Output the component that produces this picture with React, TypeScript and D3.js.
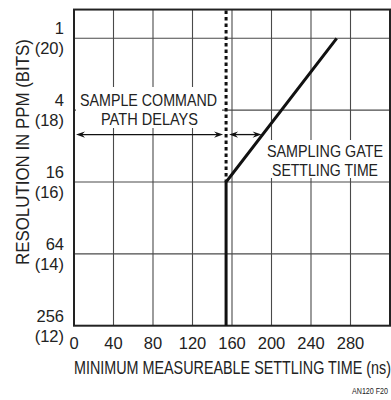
import React from 'react';
import * as d3 from 'd3';

// tick values
const xTicks = [0, 40, 80, 120, 160, 200, 240, 280];
const ppmLabels = ['1', '4', '16', '64', '256'];
const bitTicks = [20, 18, 16, 14, 12];

// settling curve: minimum measurable settling time (ns) vs resolution (bits)
const settleCurve = [
  { ns: 154, bits: 12 },
  { ns: 154, bits: 16 },
  { ns: 266, bits: 20 },
];
// sample command path delay boundary (dotted)
const delayNs = 154;
const delayFromBits = 16;
// level of the dimension arrows
const arrowBits = 17.32;

const FONT = '"Liberation Sans Narrow", "Liberation Sans", Arial, sans-serif';

export default function App() {
  const W = 391, H = 400;
  const x = d3.scaleLinear().domain([0, 320]).range([74, 390]);
  const y = d3.scaleLinear().domain([12, 20]).range([325.7, 38.3]);
  const yTop = y(20.8);
  const left = x(0), right = x(320), bottom = y(12);

  const line = d3.line<{ ns: number; bits: number }>()
    .x(d => x(d.ns))
    .y(d => y(d.bits));

  // where the arrow level meets the sloped segment
  const a = settleCurve[1], b = settleCurve[2];
  const t = (arrowBits - a.bits) / (b.bits - a.bits);
  const crossX = x(a.ns + t * (b.ns - a.ns));
  const ay = y(arrowBits);
  const dx = x(delayNs);

  const head = (tipX: number, dir: number) => {
    const L = 9, w = 3.2;
    return `M${tipX},${ay} L${tipX - dir * L},${ay - w} L${tipX - dir * (L - 3)},${ay} L${tipX - dir * L},${ay + w} Z`;
  };
  const arrows = [
    [left + 2, dx - 3],
    [dx + 3, crossX - 1],
  ];

  return (
    <svg width={W} height={H} style={{ position: 'absolute', left: 0, top: 0 }}
      fontFamily={FONT}>
      <rect x={0} y={0} width={W} height={H} fill="#fff" />
      {/* grid */}
      <g stroke="#4a4a4a" strokeWidth={1.1}>
        {xTicks.slice(1).map(v => (
          <line key={'gx' + v} x1={x(v)} x2={x(v)} y1={yTop} y2={bottom} />
        ))}
        {bitTicks.slice(0, 4).map(v => (
          <line key={'gy' + v} x1={left} x2={right} y1={y(v)} y2={y(v)} />
        ))}
      </g>
      {/* text backgrounds hide grid */}
      <rect x={76} y={87} width={146} height={41} fill="#fff" />
      <rect x={266} y={140} width={122} height={38} fill="#fff" />

      {/* frame */}
      <rect x={left} y={yTop} width={right - left} height={bottom - yTop}
        fill="none" stroke="#222" strokeWidth={2} />

      {/* dotted delay line */}
      <line x1={dx} x2={dx} y1={yTop + 1} y2={y(delayFromBits)}
        stroke="#111" strokeWidth={3} strokeDasharray="3.5,3" />
      {/* settling curve */}
      <path d={line(settleCurve) || ''} fill="none" stroke="#111" strokeWidth={3} />

      {/* dimension arrows */}
      <g stroke="#111" fill="#111">
        {arrows.map(([x1, x2], i) => (
          <g key={i}>
            <line x1={x1 + 4} x2={x2 - 4} y1={ay} y2={ay} strokeWidth={1.3} />
            <path d={head(x1, -1)} stroke="none" />
            <path d={head(x2, 1)} stroke="none" />
          </g>
        ))}
      </g>

      {/* annotations */}
      <g fontSize={17} fill="#222" textAnchor="middle">
        <text x={148.5} y={106} textLength={137} lengthAdjust="spacingAndGlyphs">SAMPLE COMMAND</text>
        <text x={149.5} y={125} textLength={97} lengthAdjust="spacingAndGlyphs">PATH DELAYS</text>
        <text x={325} y={157} textLength={116} lengthAdjust="spacingAndGlyphs">SAMPLING GATE</text>
        <text x={325} y={176} textLength={106} lengthAdjust="spacingAndGlyphs">SETTLING TIME</text>
      </g>

      {/* y tick labels */}
      <g fontSize={16.5} fill="#222" textAnchor="end">
        {bitTicks.map((v, i) => (
          <g key={'yl' + v}>
            <text x={64} y={y(v) - 4}>{ppmLabels[i]}</text>
            <text x={64} y={y(v) + 16}>({v})</text>
          </g>
        ))}
      </g>
      {/* x tick labels */}
      <g fontSize={16.5} fill="#222" textAnchor="middle">
        {xTicks.map(v => (
          <text key={'xl' + v} x={x(v)} y={bottom + 23}>{v}</text>
        ))}
      </g>

      {/* axis titles */}
      <text x={(left + right) / 2 + 0.5} y={374} fontSize={18} fill="#222" textAnchor="middle"
        textLength={317} lengthAdjust="spacingAndGlyphs">MINIMUM MEASUREABLE SETTLING TIME (ns)</text>
      <text transform="translate(28.5,152) rotate(-90)" fontSize={18} fill="#222" textAnchor="middle"
        textLength={226} lengthAdjust="spacingAndGlyphs">RESOLUTION IN PPM (BITS)</text>
      <text x={388} y={394} fontSize={9} fill="#222" textAnchor="end"
        textLength={36} lengthAdjust="spacingAndGlyphs">AN120 F20</text>
    </svg>
  );
}
